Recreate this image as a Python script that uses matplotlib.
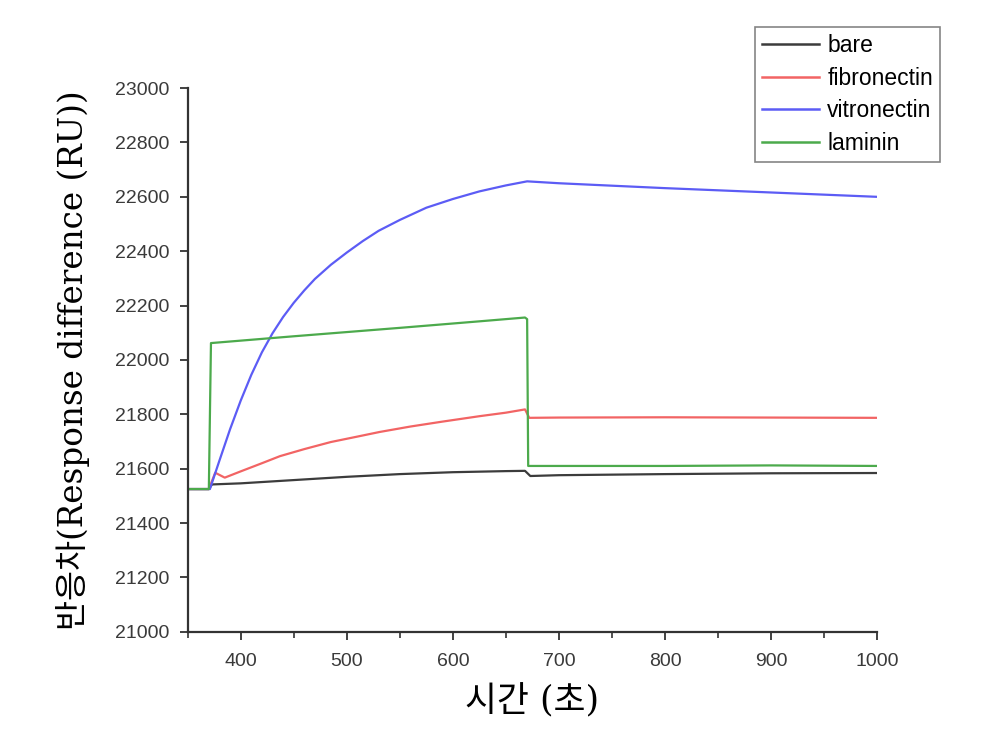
import matplotlib
matplotlib.use("Agg")
import matplotlib.pyplot as plt
from matplotlib.ticker import MultipleLocator

plt.rcParams['font.family'] = ['Liberation Sans', 'Noto Sans CJK KR', 'DejaVu Sans']

# time (s) and response (RU)
bare_t = [350, 370, 373, 400, 450, 500, 550, 600, 650, 668, 673, 700, 800, 900, 1000]
bare_y = [21525, 21525, 21542, 21546, 21558, 21570, 21580, 21587, 21591, 21592, 21573, 21576, 21580, 21583, 21584]

fib_t = [350, 370, 376, 385, 400, 420, 437, 460, 485, 510, 531, 560, 590, 625, 650, 668, 672, 700, 800, 900, 1000]
fib_y = [21525, 21525, 21585, 21567, 21590, 21620, 21646, 21672, 21698, 21718, 21735, 21755, 21773, 21793, 21806,
         21818, 21787, 21788, 21789, 21788, 21787]

vit_t = [350, 371, 380, 390, 400, 410, 420, 430, 440, 450, 460, 470, 485, 500, 515, 530, 550, 575, 600,
         625, 650, 670, 700, 800, 900, 1000]
vit_y = [21525, 21525, 21630, 21745, 21850, 21945, 22028, 22098, 22158, 22210, 22256, 22298, 22350, 22395, 22437,
         22475, 22515, 22560, 22592, 22620, 22642, 22657, 22650, 22632, 22616, 22600]

lam_t = [350, 370, 372, 450, 550, 625, 668, 670, 671, 700, 800, 900, 1000]
lam_y = [21525, 21525, 22062, 22087, 22118, 22142, 22156, 22150, 21610, 21610, 21610, 21612, 21610]

labels = ["bare", "fibronectin", "vitronectin", "laminin"]
colors = ["#3c3c3c", "#f26464", "#5c5cf5", "#4caa4c"]

fig = plt.figure(figsize=(9.98, 7.53), dpi=100)
ax = fig.add_axes([0.188, 0.161, 0.691, 0.722])

series = [(bare_t, bare_y), (fib_t, fib_y), (vit_t, vit_y), (lam_t, lam_y)]
for (t, y), lbl, c in zip(series, labels, colors):
    ax.plot(t, y, color=c, linewidth=1.6, label=lbl)

ax.set_xlim(350, 1000)
ax.set_ylim(21000, 23000)
ax.xaxis.set_major_locator(MultipleLocator(100))
ax.xaxis.set_minor_locator(MultipleLocator(50))
ax.yaxis.set_major_locator(MultipleLocator(200))

for s in ["top", "right"]:
    ax.spines[s].set_visible(False)
for s in ["left", "bottom"]:
    ax.spines[s].set_color("#333333")
    ax.spines[s].set_linewidth(1.6)

ax.tick_params(axis="both", which="major", direction="out", length=6, width=1.3,
               colors="#333333", labelsize=14, labelcolor="#3a3a3a", pad=7)
ax.tick_params(axis="x", which="major", pad=9)
ax.tick_params(axis="x", which="minor", direction="out", length=4, width=1.2, colors="#333333")

label_font = ['DejaVu Serif', 'Noto Sans CJK KR']
ax.set_xlabel("시간 (초)", fontsize=25, family=label_font, labelpad=10)
ax.set_ylabel("반응차(Response difference (RU))", fontsize=23.5, family=label_font, labelpad=18)

leg = fig.legend(loc="upper left", bbox_to_anchor=(0.7565, 0.964), borderaxespad=0, fontsize=16.5,
                 handlelength=2.5, handletextpad=0.35, labelspacing=0.42,
                 borderpad=0.3, fancybox=False, frameon=True)
leg.get_frame().set_edgecolor("#666666")
leg.get_frame().set_linewidth(1.2)
for h in leg.get_lines():
    h.set_linewidth(1.8)

fig.savefig("out.png", dpi=100, facecolor="white")
